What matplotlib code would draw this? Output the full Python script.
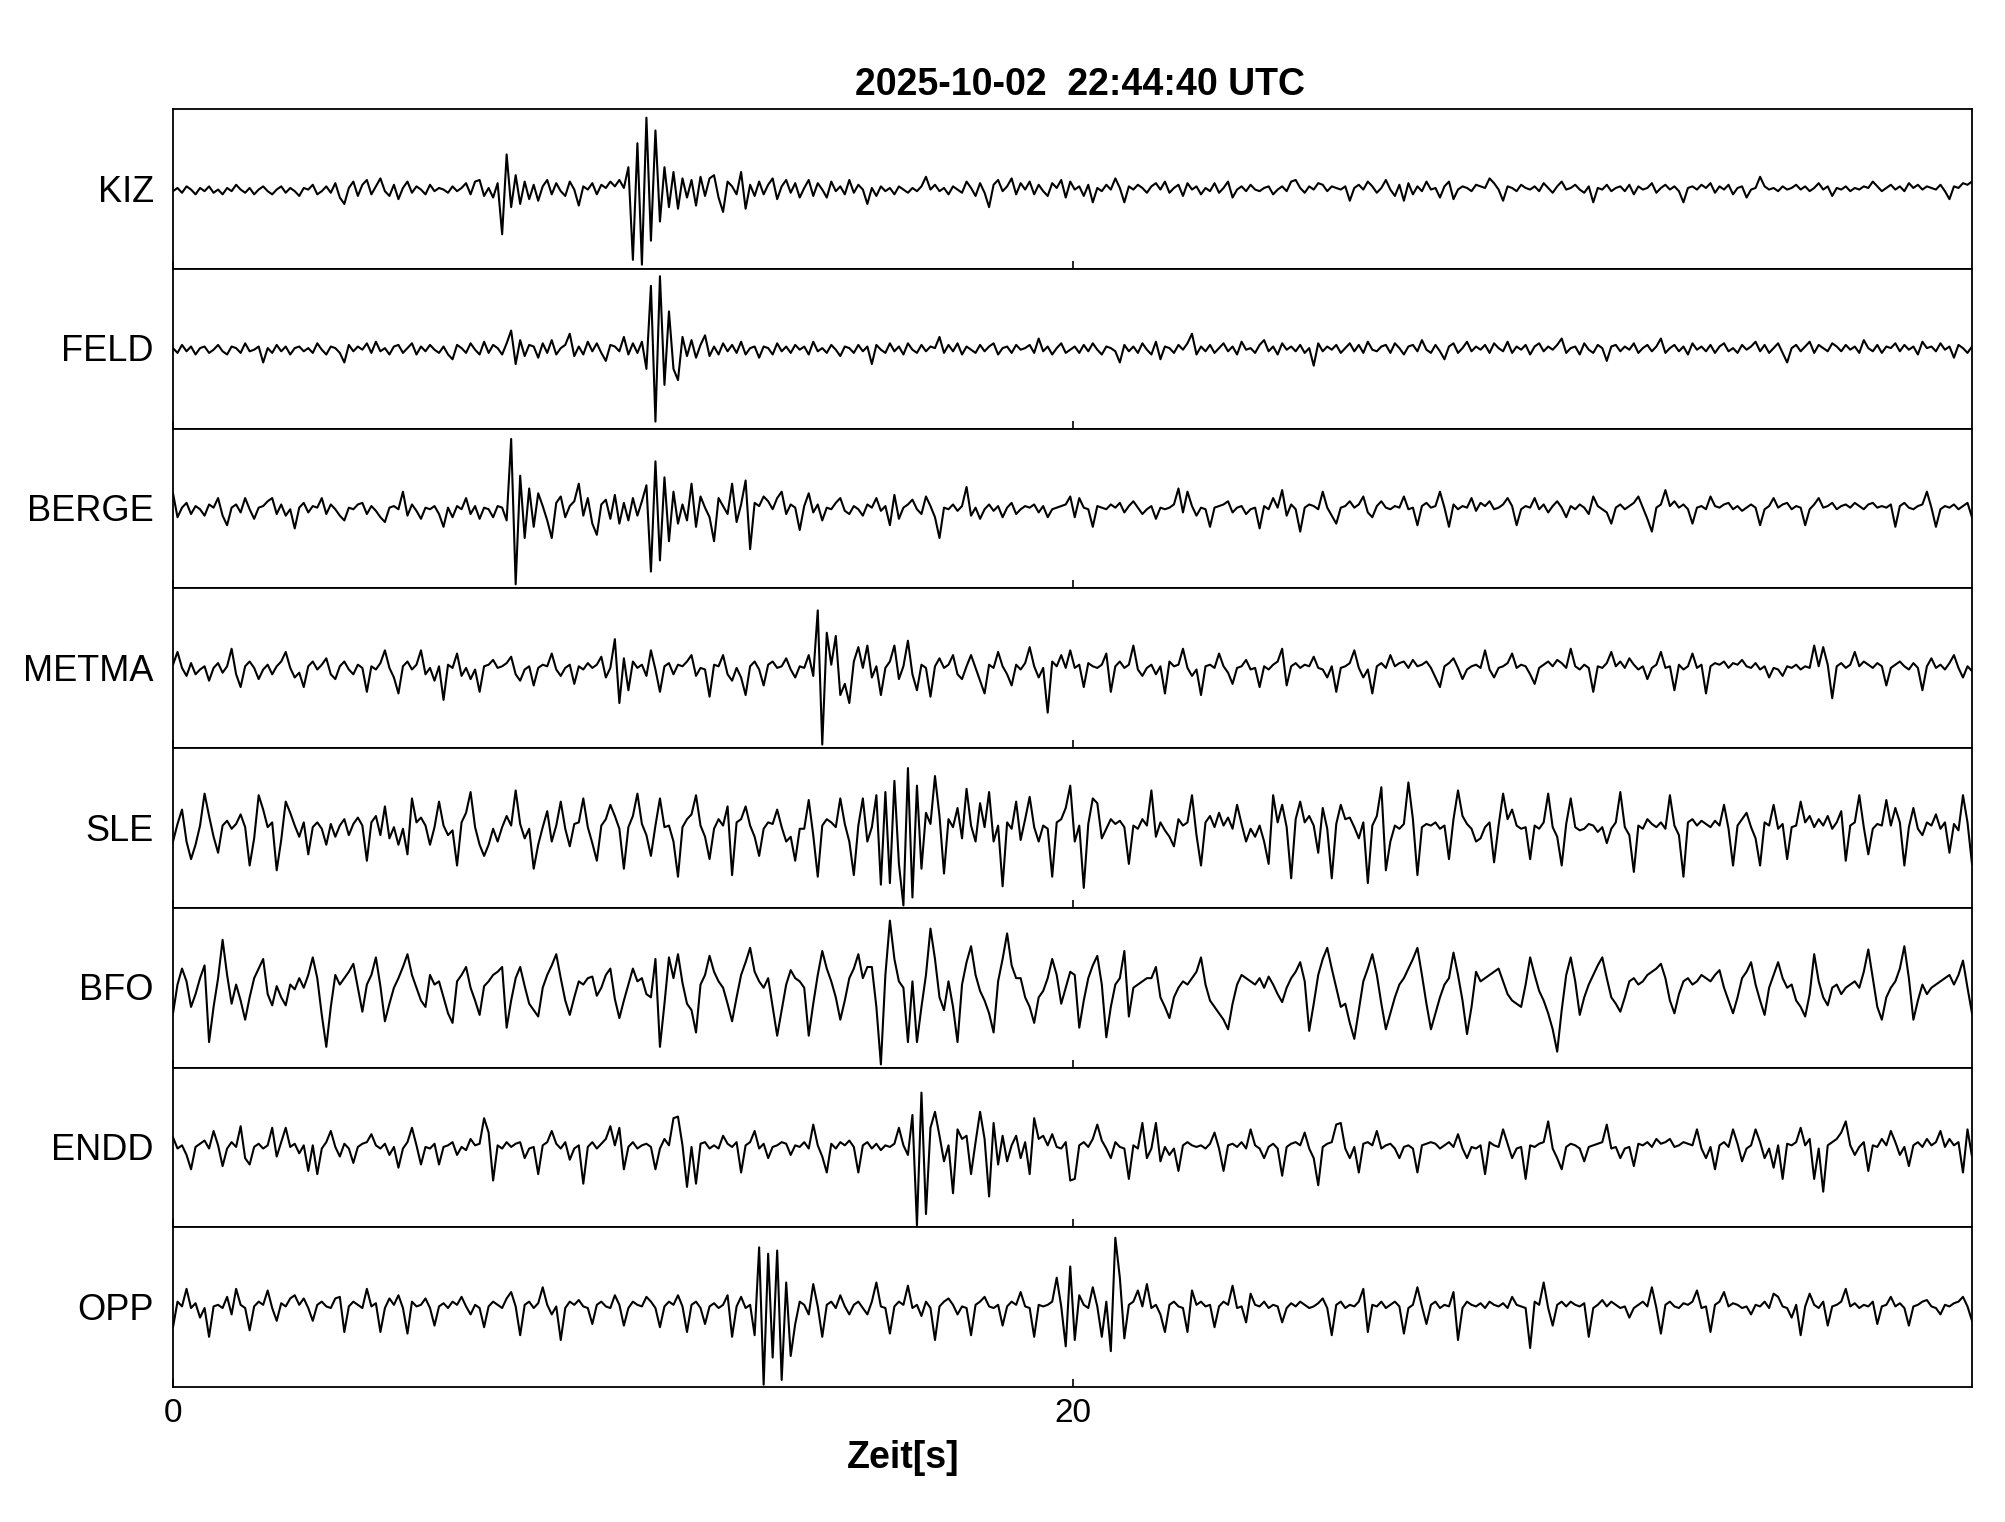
import numpy as np
import matplotlib
matplotlib.use("Agg")
from matplotlib import pyplot as plt

# 10 samples per second, amplitude in units where 50 = half the panel height
T_END = 39.97

title = "2025-10-02  22:44:40 UTC"
xlabel = "Zeit[s]"
stations = ["KIZ", "FELD", "BERGE", "METMA", "SLE", "BFO", "ENDD", "OPP"]

kiz = [
    0, 2, -1, 3, 1, -2, 2, 0, 3, -1,
    1, -2, 2, 0, 4, 1, -1, 2, -2, 1,
    3, 0, -2, 1, 3, -1, 2, 0, -3, 2,
    1, 4, -2, 0, 3, -1, 5, -4, -8, 2,
    6, -3, 4, 7, -2, 3, 8, 0, -3, 4,
    -5, 2, 6, -1, 3, 1, -2, 4, 0, 2,
    1, -1, 3, 0, 2, 5, -2, 6, 7, -3,
    2, -4, 5, -27, 23, -10, 10, -8, 6, -5,
    4, -6, 3, 7, -2, 5, 0, -3, 6, 1,
    -9, 3, 1, 5, -2, 4, 2, 6, 3, 7,
    2, 15, -43, 30, -46, 46, -31, 38, -19, 15,
    -10, 12, -11, 8, -4, 7, -9, 9, -3, 8,
    10, -4, -13, 6, 3, -2, 12, -11, 4, -3,
    6, -2, 4, 8, -5, 3, 7, -1, 5, -4,
    2, 7, -3, 5, 1, -4, 6, 0, 3, -2,
    7, -1, 4, 1, -8, 2, -3, 3, 0, 2,
    -2, 3, 1, -1, 2, 0, 3, 9, 1, 4,
    0, 2, -2, 3, 1, -1, 6, 2, -3, 5,
    -1, -10, 4, 7, 0, 3, 8, -2, 5, 1,
    6, -2, 4, 0, -3, 5, 2, 7, -4, 6,
    1, 3, -3, 4, -7, 2, 0, 4, 1, 8,
    2, -7, 3, 1, 4, 2, -1, 3, 5, 1,
    6, -1, 2, 4, -3, 5, 1, 3, -2, 2,
    0, 5, -1, 2, 6, -4, 1, 3, 0, 4,
    1, 0, 2, 3, -2, 1, 3, 0, 6, 7,
    2, -1, 3, 1, 5, 4, 0, 3, 2, 1,
    3, -6, 2, 4, 1, 6, 3, -1, 2, 7,
    1, -3, 4, -6, 5, -2, 3, 0, 6, 1,
    2, -4, 3, 6, -5, 1, 3, 2, 0, 4,
    3, 2, 8, 5, 1, -6, 3, 2, 0, 4,
    2, 1, 3, 0, 5, 2, -1, 3, 6, 1,
    2, 4, 1, -1, 3, -7, 2, 1, 4, 0,
    2, 3, 0, 4, -2, 3, 1, 2, 5, -1,
    2, 4, 1, 3, 0, -7, 2, 3, 1, 4,
    2, 5, -1, 3, 1, 4, -2, 2, 3, -4,
    1, 2, 9, 3, 1, 2, 0, 3, 1, 2,
    4, 1, 3, 0, 2, 5, 1, 3, -3, 2,
    1, 3, 0, 2, 1, 3, 2, 6, 3, 0,
    2, 4, 1, 3, 0, 5, 2, 4, 1, 3,
    2, 1, 4, 0, -5, 3, 2, 5, 4, 6,
]

feld = [
    1, -2, 3, -1, 2, -3, 1, 2, -2, 0,
    3, -1, -3, 2, 1, -2, 4, -1, 0, 2,
    -8, 1, -2, 3, -1, 2, -3, 1, 2, -1,
    1, -2, 4, 0, -3, 2, 1, -2, -8, 3,
    -1, 2, 0, 4, -2, 5, -1, 1, -3, 2,
    3, -2, 1, 4, -3, 2, -1, 3, 0, -2,
    2, -3, -6, 3, 1, -2, 4, 0, -3, 5,
    -2, 3, 1, -3, 4, 12, -9, 6, -4, 3,
    2, -5, 4, -2, 6, -3, 1, 3, 10, -4,
    2, -3, 5, -1, 4, -2, -7, 3, 2, -1,
    8, -3, 4, -2, 5, -12, 40, -45, 46, -22,
    24, -12, -19, 8, -4, 6, -5, 3, 9, -4,
    2, -3, 4, -1, 3, -2, 5, -3, 1, 2,
    -5, 2, 1, -3, 4, -1, 2, -2, 3, 0,
    2, -3, 5, -1, 1, -2, 3, 0, -4, 2,
    1, -2, 3, -1, 2, -9, 3, 0, -2, 4,
    -1, 2, -3, 4, 0, -2, 3, -1, 2, 1,
    8, -2, 3, -1, 4, -3, 2, 0, -2, 3,
    -1, 2, 4, -3, 1, 2, -2, 3, 0, 1,
    3, -2, 7, -1, 2, -3, 1, 4, -2, 0,
    2, -2, 3, -1, 4, 0, -3, 2, 1, -1,
    -8, 3, -1, 2, -2, 4, 0, -3, 5, -6,
    2, 1, -2, 3, 0, 4, 10, -3, 2, -1,
    3, -2, 1, 4, -1, 2, -3, 5, 0, 1,
    -2, 3, 6, -1, 2, -3, 4, 0, 2, -1,
    3, -2, 1, -10, 4, -1, 2, 0, 3, -2,
    1, 4, -1, 3, -2, 5, 0, -1, 2, 3,
    -2, 4, 1, -3, 2, 3, -1, 6, 0, -2,
    3, -1, -6, 2, 4, -2, 1, 5, -1, 2,
    0, 3, -2, 4, 1, -1, 5, -2, 2, 0,
    3, -3, 2, 4, -1, 2, 0, 3, 7, -2,
    1, 2, -3, 4, 0, -2, 3, 1, -7, 2,
    3, -1, 2, 0, 4, -2, 1, 3, -1, 2,
    7, -2, 1, 3, -1, 2, -3, 4, 0, 2,
    -1, 3, -2, 2, 4, -1, 1, -2, 3, 0,
    2, 5, -1, 3, -2, 1, 4, -2, -8, 1,
    3, -1, 2, 5, -2, 3, 1, -1, 4, 2,
    -1, 3, 0, 2, -2, 6, 1, -1, 3, -2,
    2, 1, 4, -1, 3, 0, 2, -3, 5, 1,
    2, -1, 4, 0, 2, -5, 3, 1, -2, 2,
]

berge = [
    11, -4, 2, 5, -2, 3, 1, -3, 4, 2,
    8, -3, -9, 2, 4, -1, 8, 1, -5, 2,
    3, 6, 8, -2, 4, -3, 1, -11, 2, 5,
    -1, 3, 2, 8, -2, 4, 1, -3, -6, 2,
    1, 4, 5, -2, 3, 0, -4, -7, 2, 3,
    1, 12, -3, 4, 0, -5, 2, 1, 3, -2,
    -10, 2, -4, 3, 1, 8, -2, 3, -5, 2,
    1, -4, 3, 2, -6, 45, -46, 22, -17, 14,
    -10, 11, 3, -6, -17, 5, 9, -4, 3, 6,
    17, -3, 8, -8, -15, 4, 7, -5, 10, -8,
    5, -6, 8, -3, 6, 16, -38, 31, -31, 21,
    -19, 12, -8, 4, -6, 17, -10, 9, 2, -4,
    -19, 8, 3, -2, 17, -7, 4, 19, -24, 5,
    3, 9, 6, 1, 8, 12, -2, 4, 2, -12,
    3, 11, -1, 4, -6, 2, 1, 5, 8, 0,
    -2, 3, 1, -3, 4, 2, 8, 0, 3, -9,
    10, -5, 2, 4, 7, 1, -2, 9, 3, -4,
    -17, 2, 1, 4, 0, 3, 15, -3, 2, -5,
    1, 4, 0, 3, -4, 2, 5, -2, 1, 3,
    2, 4, -1, 3, -4, 1, 2, 3, 4, 9,
    -4, 8, 2, 1, -10, 3, 2, 1, 4, 2,
    5, -1, 3, 6, 2, -2, 1, 3, -5, 2,
    1, 2, 4, 14, -1, 12, 3, -3, 2, 1,
    -10, 2, 3, 4, 6, -1, 2, 3, -2, 1,
    2, -11, 3, 1, 8, 2, 13, -3, 4, 1,
    -13, 2, 4, 3, 1, 12, 2, -3, -8, 2,
    3, 6, 2, 4, 9, -1, -4, 3, 6, 2,
    1, 3, 2, 9, 1, 2, -9, 3, 5, 2,
    3, 12, 2, -10, 4, 1, 3, 2, 8, 0,
    5, 3, 6, 1, 2, 4, 8, 3, -9, 1,
    3, 2, 8, 1, 4, -1, 3, 6, 2, -4,
    3, 1, 4, 2, -2, 9, 3, 1, -1, -8,
    2, 4, 1, 3, 5, 9, 2, -5, -13, 2,
    4, 13, 3, 6, 2, 4, 1, -8, 2, 3,
    1, 9, 3, 2, 4, 5, 1, 3, 0, 2,
    4, 2, -9, 1, 3, 8, 2, 4, 5, 1,
    3, 2, -9, 1, 4, 8, 2, 3, 5, 1,
    3, 4, 2, 5, 3, 1, 4, 5, 2, 3,
    2, 4, -10, 3, 5, 2, 1, 3, 4, 12,
    2, -10, 1, 3, 2, 4, 1, 3, 5, -4,
]

metma = [
    4, 12, 2, -3, 5, -2, 1, 3, -6, 2,
    5, -1, 3, 14, -2, -10, 3, 6, 2, -5,
    1, 4, -2, 3, 6, 12, 2, -4, -1, -10,
    3, 6, 1, 4, 8, -2, -5, 3, 6, 1,
    -2, 4, 2, -13, 3, 1, 5, 13, 2, -4,
    -14, 3, 6, 1, 4, 13, -2, 2, -6, 3,
    -18, 4, 2, 11, -3, 2, -5, 1, -13, 3,
    4, 7, 2, 3, 5, 9, -2, -6, 1, 3,
    -9, 2, 4, 3, 11, 1, -3, 2, 4, -8,
    3, 1, 5, 2, 4, 9, -4, 2, 20, -20,
    8, -12, 6, 2, 4, -3, 13, 1, -13, 3,
    5, -2, 4, 3, 6, 10, -3, 2, 1, -16,
    4, 3, 10, -2, -6, 2, -4, -15, 3, 6,
    1, -9, 4, 6, 2, 3, 8, 1, -4, 3,
    2, 10, -3, 38, -46, 24, 4, 22, -15, -8,
    -20, 6, 15, 2, 16, -4, 3, -15, 2, 6,
    16, -5, 3, 19, -2, -12, 4, 2, -16, 3,
    8, 2, 4, 10, -2, -5, 3, 10, 2, -6,
    -14, 4, 2, 12, 3, -2, -9, 4, 1, 5,
    15, 3, -4, 2, -26, 6, 3, 10, 2, 13,
    2, 4, -10, 5, 3, 2, 4, 11, -13, 3,
    6, 2, 4, 16, 1, -3, 2, 4, -2, 3,
    -14, 6, 3, 4, 14, 2, -3, 1, -15, 3,
    4, 2, 11, 3, -1, -8, 2, 3, 7, 1,
    2, -10, 3, 1, 4, 6, 14, -9, 3, 5,
    2, 4, 3, 9, 2, 1, -4, 3, -13, 2,
    3, 5, 13, 2, -4, 1, -14, 3, 5, 2,
    10, 3, 5, 6, 2, 7, 3, 4, 6, 2,
    -4, -10, 3, 5, 8, 2, -5, 1, 3, 4,
    2, 13, 1, -4, 2, 3, 5, 11, 2, 4,
    3, -2, -8, 2, 4, 6, 3, 7, 5, 2,
    14, 3, 1, 4, 2, -13, 3, 2, 5, 12,
    3, 6, 2, 8, 4, 1, 3, -5, 2, 4,
    12, 2, 3, -12, 4, 1, 3, 11, 2, 4,
    -14, 3, 5, 4, 6, 2, 5, 4, 7, 3,
    2, 5, 1, 3, -4, 2, 1, -3, 3, 2,
    4, 1, 3, 2, 16, 3, 15, 4, -17, 3,
    5, 2, 4, 12, 3, 6, 4, 2, 5, 3,
    -9, 2, 4, 6, 3, 1, 5, 2, -12, 3,
    8, 2, 4, 1, 5, 10, 2, -4, 3, 0,
]

sle = [
    -6, 5, 14, -6, -17, -8, 4, 24, 10, -3,
    -13, 4, 7, 2, 5, 11, 3, -21, -4, 23,
    14, 3, 6, -24, -5, 19, 12, 4, -3, 6,
    -14, 3, 6, 2, -8, 5, -3, 4, 8, -2,
    5, 9, 4, -18, 6, 10, -2, 16, -4, 3,
    -8, 2, -14, 21, 6, 9, 4, -8, 3, 19,
    4, -2, 1, -21, 6, 12, 25, 3, -8, -15,
    -8, 2, -6, 3, 10, 4, 26, 5, -4, 2,
    -23, -8, 3, 13, -6, 4, 19, 2, -9, 5,
    6, 21, 3, -7, -18, 4, 8, 17, 10, 2,
    -23, 3, 10, 24, 5, -2, -15, 4, 21, 3,
    4, -6, -28, 3, 8, 11, 23, 4, -3, -17,
    2, 8, 4, 16, -27, 6, 8, 16, 4, -3,
    -15, 2, 6, 5, 14, 3, -6, -3, -18, 2,
    2, 20, -2, -28, 4, 8, 6, 3, 21, 5,
    -6, -27, 4, 21, -6, 3, 23, -33, 25, -32,
    32, -20, -46, 40, -41, 29, -23, 12, 5, 35,
    10, -26, 8, 3, 15, -4, 27, 4, -6, 18,
    3, 25, -6, 4, -34, 6, 2, 19, -5, 8,
    22, 3, -6, 4, 2, -28, 6, 8, 15, 29,
    -6, 4, -35, 5, 21, 18, -4, 2, 8, 5,
    7, 3, -20, 4, 2, 8, 4, 26, -3, 6,
    1, -3, -9, 8, 4, 6, 23, -2, -21, 6,
    10, 3, 12, 4, 9, 2, 17, 5, -6, 2,
    -3, 4, -6, -20, 23, 6, 17, 3, -29, 8,
    19, 6, 10, 4, -13, 15, 2, -29, 5, 17,
    8, 9, 3, -4, 6, -32, 4, 10, 28, -24,
    -6, 4, 2, 5, 31, 8, -27, 3, 5, 4,
    6, 2, 4, -17, 8, 26, 10, 5, 2, -6,
    -4, 3, 6, -19, 4, 24, 8, 14, 4, 2,
    3, -17, 4, 2, 6, 24, 3, -3, -21, 5,
    21, 3, 1, 2, 5, 4, 0, 3, -7, 2,
    6, 25, 3, -2, -25, 4, 2, 8, 5, 3,
    6, 2, 23, 4, -2, -28, 6, 8, 4, 7,
    5, 3, 7, 4, 17, 2, -21, 4, 8, 12,
    3, -4, -21, 6, 4, 17, 2, 5, -17, 3,
    4, 19, 6, 10, 3, 8, 4, 10, 2, 6,
    13, -18, 4, 6, 23, 3, -14, 2, 5, 4,
    20, 4, 15, 6, -21, 3, 15, 2, -2, 6,
    4, 11, 2, 6, -13, 5, 1, 23, 6, -20,
]

bfo = [
    -14, 4, 14, 6, -10, -2, 8, 16, -32, -10,
    8, 32, 10, -8, 4, -6, -18, -4, 8, 14,
    20, -2, -9, 3, -4, -9, 4, 1, 8, 2,
    10, 21, 8, -15, -35, -10, 10, 4, 8, 12,
    17, 2, -13, 4, 10, 21, 3, -19, -8, 2,
    8, 15, 23, 10, 2, -6, -10, 10, 4, 6,
    -4, -14, -20, 6, 10, 15, 2, -6, -15, 3,
    6, 10, 12, 15, -23, -6, 8, 15, 3, -8,
    -12, -16, 2, 10, 16, 23, 8, -6, -15, -4,
    6, 4, 8, 9, -3, 2, 10, 14, -5, -17,
    -6, 4, 14, 6, 8, -2, -4, 20, -35, -8,
    21, 8, 23, 5, -8, -12, -26, 4, 10, 22,
    12, 6, 2, -8, -19, -4, 10, 18, 27, 12,
    6, 2, 8, -10, -28, -12, 4, 13, 8, 6,
    2, -28, -8, 10, 25, 14, 6, -4, -18, -6,
    8, 14, 23, 8, 15, 15, -10, -46, 10, 44,
    20, 6, 2, -32, 6, -32, -10, 10, 39, 20,
    -4, -12, 6, -10, -32, 4, 18, 28, 10, 0,
    -6, -14, -26, 6, 20, 36, 16, 8, 8, -4,
    -10, -20, -4, 0, 8, 20, 10, -8, 2, 12,
    10, -23, -6, 8, 16, 22, 4, -29, -10, 4,
    8, 25, -16, 2, 4, 6, 8, 8, 15, -4,
    -10, -17, -4, 2, 6, 4, 8, 12, 21, 4,
    -6, -10, -14, -18, -24, -8, 4, 10, 8, 6,
    4, 8, 2, 9, 4, -2, -7, 2, 8, 12,
    18, 6, -25, -8, 10, 20, 27, 14, 2, -10,
    -8, -20, -30, -12, 6, 14, 23, 10, -8, -24,
    -14, -4, 4, 8, 14, 20, 27, 10, -8, -24,
    -14, -4, 4, 8, 24, 10, -6, -27, -10, 12,
    6, 8, 10, 12, 14, 6, -2, -6, -8, -10,
    4, 21, 10, 0, -6, -14, -24, -38, -12, 10,
    21, 6, -15, -4, 4, 10, 16, 21, 8, -4,
    -8, -13, -4, 6, 8, 4, 6, 10, 12, 14,
    17, 8, -6, -14, -2, 6, 8, 4, 6, 10,
    8, 6, 10, 13, 2, -6, -14, -4, 8, 12,
    18, 4, -6, -15, 2, 10, 18, 8, 2, 4,
    -6, -10, -16, -2, 23, 6, -4, -9, 2, 4,
    -2, 2, 4, 6, 2, 12, 26, 8, -10, -18,
    -4, 2, 6, 14, 28, 8, -18, -6, 4, -2,
    2, 4, 6, 8, 10, 4, 10, 19, 2, -14,
]

endd = [
    9, 2, 4, -2, -11, 3, 5, 7, 2, 13,
    4, -9, 2, 6, 3, 16, -4, -8, 3, 5,
    2, 4, 15, -3, 6, 15, 3, 5, -1, 4,
    -12, 4, -14, 2, 6, 13, 3, -3, 5, 2,
    -7, 3, 5, 6, 11, 4, 2, 5, -2, 3,
    -10, 2, 6, 15, 4, -8, 3, 2, 5, -8,
    3, 4, 6, -2, 3, 1, 8, 4, 5, 21,
    12, -18, 4, 2, 6, 3, 5, 6, -4, 2,
    3, -14, 4, 6, 13, 5, 2, 6, -5, 2,
    4, -20, 3, 6, 2, 5, 8, 16, 4, 15,
    -11, 3, 6, 2, 4, 5, 3, -11, 2, 8,
    4, 21, 22, 4, -22, 3, -20, 5, 6, 2,
    4, 2, 10, 5, 3, 6, -13, 4, 6, 13,
    2, 5, -4, 3, 4, 6, 5, -2, 4, 3,
    6, 2, 17, 4, -3, -13, 5, 2, 6, 4,
    7, 3, -13, 4, 6, 2, 5, 1, 4, 3,
    5, 15, 4, -2, 23, -46, 37, -39, 15, 25,
    10, -6, 4, -26, 14, 8, 10, -14, 6, 25,
    8, -28, 18, -8, 10, -6, 4, 10, -4, 6,
    -14, 21, 8, 10, 4, 11, 3, 2, 6, -18,
    -17, 4, 6, 3, 8, 17, 7, 2, -4, 6,
    3, 2, -17, 4, 2, 18, -4, 2, 18, -6,
    3, -2, 2, -12, 4, 6, 4, 3, 4, 2,
    5, 12, 2, -12, 4, 5, 3, 6, 2, 14,
    4, 2, -4, 3, 5, 2, -15, 3, 5, 6,
    4, 12, 2, -4, -21, 3, 5, 6, 17, 18,
    2, -4, 3, -13, 5, 6, 4, 13, 2, 4,
    5, 2, -4, 3, 4, 2, -13, 4, 5, 6,
    5, 2, 4, 6, 3, 11, 2, -4, 3, 2,
    4, -14, 6, 4, 3, 14, 5, -4, 2, 3,
    -17, 4, 3, 5, 6, 19, 2, -4, -11, 3,
    5, 4, 2, -6, 3, 4, 5, 6, 17, 2,
    3, -4, 2, 3, -9, 5, 4, 6, 3, 8,
    5, 6, 8, 3, 4, 6, 5, 4, 14, 2,
    -4, 3, -11, 4, 6, 3, 14, 5, -6, 2,
    4, 14, 6, -4, 2, -10, 4, -17, 5, 4,
    6, 15, 4, 8, -17, 2, -25, 4, 6, 8,
    12, 19, 4, -2, 3, 6, -12, 4, 3, 8,
    4, 13, 6, -2, 3, -9, 4, 6, 3, 8,
    4, 6, 13, 3, 8, 4, 6, -13, 14, -3,
]

opp = [
    -10, 6, 3, 14, 2, 5, -4, 2, -16, 3,
    4, 2, 9, -2, 14, 4, 2, -12, 3, 6,
    4, 13, 2, -6, 5, 3, 8, 10, 4, 8,
    2, -6, 4, 6, 3, 2, 8, 9, -13, 3,
    6, 4, 2, 14, 3, 5, -13, 2, 8, 4,
    10, 2, -14, 6, 3, 4, 8, 2, -9, 3,
    5, 2, 6, 4, 9, 3, -2, 4, 2, -10,
    3, 6, 4, 2, 8, 12, 3, -15, 4, 6,
    2, 5, 15, 4, -2, 3, -18, 2, 6, 4,
    7, 3, 2, -8, 4, 6, 3, 2, 10, 4,
    -9, 2, 6, 4, 3, 9, 6, 2, -10, 3,
    6, 4, 10, 3, -13, 4, 6, 2, -8, 3,
    5, 2, 4, 10, -16, 3, 9, 2, 4, -15,
    40, -46, 36, -29, 38, -43, 18, -28, -8, 6,
    4, -2, 17, 3, -16, 4, 6, 2, 10, 3,
    -2, 4, 6, 2, -2, 6, 18, 3, 2, -14,
    3, 6, 4, 16, 2, 4, -3, 6, 2, -18,
    3, 6, 8, 4, -2, 3, 2, -15, 4, 6,
    9, 3, 2, 4, -9, 3, 6, 4, 12, 3,
    2, -16, 4, 3, 4, 6, 21, 3, -22, 28,
    -18, 10, 4, 2, 15, 3, -16, 6, -25, 46,
    21, -17, 4, 6, 13, 3, 17, 2, 4, -2,
    -13, 4, 6, 3, 2, -13, 13, 4, 6, 3,
    4, -10, 3, 6, 4, 16, 2, 3, -7, 11,
    4, 3, 6, 2, 4, 3, -7, 2, 5, 3,
    6, 4, 2, 3, 5, 8, 2, -15, 4, 6,
    2, 4, 3, 6, 14, -13, 4, 3, 6, 2,
    4, 6, 3, -14, 2, 4, 15, 3, -8, 4,
    6, 2, 4, 3, 12, -18, 2, 6, 4, 3,
    5, 2, 6, 4, 3, 5, 2, 9, 4, 3,
    2, -23, 6, 4, 18, 2, -9, 4, 6, 3,
    6, 4, 3, 5, -16, 2, 4, 7, 3, 6,
    4, 2, 3, -4, 2, 4, 6, 3, 15, 2,
    -14, 4, 6, 3, 2, 5, 4, 6, 13, 2,
    3, -13, 4, 6, 12, 3, 5, 4, 2, 3,
    -2, 4, 3, 6, 2, 11, 9, 3, 2, -4,
    4, -15, 3, 11, 4, 2, 6, -9, 3, 4,
    6, 14, 3, 5, 2, 4, 3, 6, -8, 3,
    4, 9, 3, 5, 2, -9, 3, 4, 6, 7,
    3, 2, -2, 4, 3, 5, 6, 9, 3, -6,
]

traces = [kiz, feld, berge, metma, sle, bfo, endd, opp]

W, H = 2005, 1522
fig = plt.figure(figsize=(W / 100, H / 100), dpi=100)
plt.rcParams['font.family'] = ['Liberation Sans', 'DejaVu Sans']

left, right = 173 / W, 1972 / W
top, bottom = 1 - 109 / H, 1 - 1387 / H
axes = fig.subplots(len(stations), 1, sharex=True)
fig.subplots_adjust(left=left, right=right, top=top, bottom=bottom, hspace=0)

for i, (ax, name, tr) in enumerate(zip(axes, stations, traces)):
    y = np.asarray(tr, dtype=float)
    y = y - y.mean()
    t = np.linspace(0, T_END, len(y))
    ax.plot(t, y, color='black', lw=1.5)
    ax.set_xlim(0, T_END)
    ax.set_ylim(-50, 50)
    ax.set_yticks([])
    ax.set_xticks([0, 20])
    ax.tick_params(axis='x', direction='in', length=6, width=1.2,
                   labelsize=24, pad=8, labelbottom=(i == len(stations) - 1))
    for sp in ax.spines.values():
        sp.set_linewidth(1.3)
    ax.text(-19 / 1799, 0.48, name, transform=ax.transAxes, ha='right',
            va='center', fontsize=26)

fig.text(1080 / W, 1 - 95 / H, title, ha='center', va='baseline',
         fontsize=27, fontweight='bold')
fig.text(903 / W, 1 - 1468 / H, xlabel, ha='center', va='baseline',
         fontsize=27, fontweight='bold')

fig.savefig('out.png', dpi=100)
